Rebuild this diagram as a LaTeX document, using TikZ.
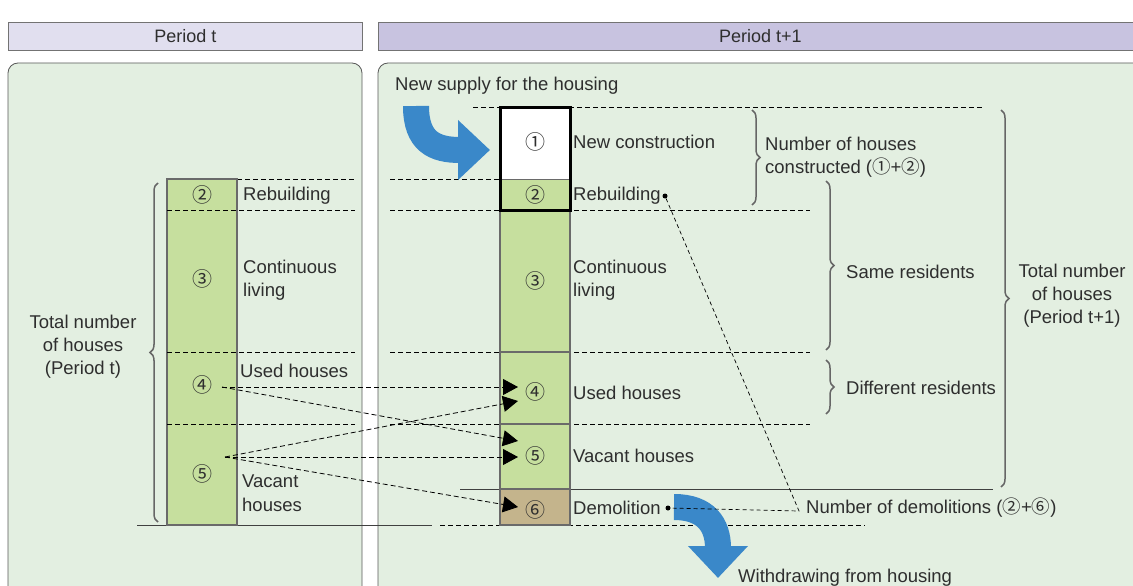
\documentclass[tikz,border=0pt]{standalone}
\usepackage{fontspec}
\setmainfont{Liberation Sans}
\newfontfamily\circfont{Noto Sans CJK JP}
\usetikzlibrary{arrows.meta,decorations.pathreplacing,positioning}

\definecolor{panelgreen}{HTML}{E3EFE1}
\definecolor{headA}{HTML}{E1DFEF}
\definecolor{headB}{HTML}{C8C3E0}
\definecolor{bargreen}{HTML}{C6DF9E}
\definecolor{barbrown}{HTML}{C4B48C}
\definecolor{flowblue}{HTML}{3A88C9}
\definecolor{edgegray}{HTML}{6A6A6A}
\definecolor{inkgray}{HTML}{2E2E2E}

\newcommand{\cnum}[1]{{\circfont #1}}

\tikzset{
  hdr/.style={draw=black!55, line width=0.8pt, minimum height=28pt, inner sep=0pt,
    anchor=north west, font=\fontsize{18}{22}\selectfont, text=inkgray},
  lbl/.style={anchor=west, inner sep=0pt, font=\fontsize{18.5}{23.5}\selectfont,
    text=inkgray, align=left},
  ctr/.style={inner sep=0pt, font=\fontsize{18.5}{23}\selectfont, text=inkgray, align=center},
  num/.style={inner sep=1pt, font=\circfont\fontsize{20}{22}\selectfont, text=inkgray},
  guide/.style={line width=0.8pt, dash pattern=on 5pt off 3pt},
  flow/.style={guide, -{Triangle[length=15pt,width=16pt]}},
  thinguide/.style={line width=0.7pt, dash pattern=on 4pt off 3pt},
  brc/.style={decorate, decoration={brace, amplitude=8pt}, line width=1.5pt, draw=black!60},
  bigflow/.style={draw=flowblue, line width=26pt, -{Triangle[length=32pt,width=58pt]}},
  dot/.style={circle, fill=black, inner sep=0pt, minimum size=5pt},
}

\begin{document}
\begin{tikzpicture}[x=1pt,y=-1pt]
\useasboundingbox (0,0) rectangle (1133,586);
% kopjes
\node[hdr, fill=headA, minimum width=354pt] (hdrt) at (8,22) {Period t};
\node[hdr, fill=headB, minimum width=764pt] (hdrtt) at (378,22) {Period t+1};
% panelen
\draw[black!65, line width=0.8pt, fill=panelgreen, rounded corners=10pt] (8,63) rectangle (362,640);
\draw[black!65, line width=0.8pt, fill=panelgreen, rounded corners=10pt] (378,63) rectangle (1160,640);

% hulplijnen
\draw[guide] (237,179) -- (355,179);
\draw[guide] (390,179) -- (500,179);
\draw[guide] (473,107) -- (983,107);
\draw[guide] (440,525) -- (865,525);
\draw[black!75, line width=0.8pt] (460,489) -- (993,489);
\draw[black!75, line width=0.8pt] (137,525) -- (432,525);
\foreach \y in {210,352,424} {
  \draw[guide] (390,\y) -- (810,\y);
}

% staaf periode t
\fill[bargreen] (167,179) rectangle (237,525);
\draw[edgegray, line width=1.5pt] (167,179) rectangle (237,525);
\foreach \y in {210,352,424} {
  \draw[guide] (167,\y) -- (355,\y);
}

% staaf periode t+1
\fill[white] (500,107) rectangle (570,179);
\fill[bargreen] (500,179) rectangle (570,489);
\fill[barbrown] (500,489) rectangle (570,525);
\draw[edgegray, line width=1.5pt] (500,210) rectangle (570,525);
\draw[edgegray, line width=1.5pt] (500,352) -- (570,352) (500,424) -- (570,424) (500,489) -- (570,489);
\draw[edgegray, line width=0.8pt] (500,179) -- (570,179);
\draw[black, line width=3pt] (500,107) rectangle (570,210);

% nummers
\node[num] (l2) at (202,195) {②};
\node[num] (l3) at (202,279) {③};
\node[num] (l4) at (202,385) {④};
\node[num] (l5) at (202,474) {⑤};
\node[num] (r1) at (535,142) {①};
\node[num] (r2) at (535,195) {②};
\node[num] (r3) at (535,281) {③};
\node[num] (r4) at (535,392) {④};
\node[num] (r5) at (535,456) {⑤};
\node[num] (r6) at (535,510) {⑥};

% labels periode t
\node[lbl] (rebL) at (243,196) {Rebuilding};
\node[lbl] (contL) at (243,280) {Continuous\\living};
\node[lbl] (usedL) at (240,371) {Used houses};
\node[lbl] (vacL) at (242,493) {Vacant\\houses};
\node[ctr] (totL) at (83,347) {Total number\\of houses\\(Period t)};

% labels periode t+1
\node[lbl] (supply) at (395,86) {New supply for the housing};
\node[lbl] (newc) at (573,142) {New construction};
\node[lbl] (rebR) at (573,196) {Rebuilding};
\node[lbl] (contR) at (573,280) {Continuous\\living};
\node[lbl] (usedR) at (573,393) {Used houses};
\node[lbl] (vacR) at (573,456) {Vacant houses};
\node[lbl] (demo) at (573,508) {Demolition};
\node[lbl] (ncons) at (765,157) {Number of houses\\constructed (\cnum{①}+\cnum{②})};
\node[lbl] (same) at (846,272) {Same residents};
\node[lbl] (diff) at (846,388) {Different residents};
\node[ctr] (totR) at (1072,296) {Total number\\of houses\\(Period t+1)};
\node[lbl] (ndem) at (806,508) {Number of demolitions (\cnum{②}+\cnum{⑥})};
\node[lbl] (withd) at (738,578) {Withdrawing from housing};

% accolades
\draw[brc] (158,522) -- (158,183);
\draw[brc] (752,110) -- (752,205);
\draw[brc] (826,181) -- (826,350);
\draw[brc] (826,360) -- (826,414);
\draw[brc] (1001,110) -- (1001,487);

% stromen tussen de staven
\coordinate (out4) at (222,387);
\coordinate (out5) at (225,457);
\coordinate (in4a) at (518,387);
\coordinate (in4b) at (518,401);
\coordinate (in5a) at (518,441);
\coordinate (in5b) at (518,457);
\coordinate (in6) at (518,507);
\draw[flow] (out4) -- (in4a);
\draw[flow] (out4) -- (in5a);
\draw[flow] (out5) -- (in4b);
\draw[flow] (out5) -- (in5b);
\draw[flow] (out5) -- (in6);

% blauwe pijlen
\draw[bigflow] (416,106) .. controls (416,142) and (435,150) .. (490,150);
\draw[bigflow] (674,507) .. controls (706,507) and (718,525) .. (718,578);

% sloop
\node[dot] (dotA) at (665,196) {};
\node[dot] (dotB) at (668,508) {};
\coordinate (kink) at ([xshift=-7pt,yshift=-3pt]ndem.west);
\draw[thinguide] (dotA) -- (kink) -- (dotB);
\end{tikzpicture}
\end{document}
